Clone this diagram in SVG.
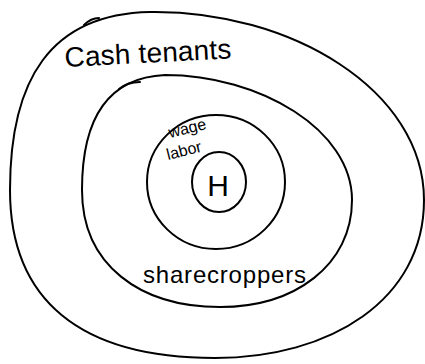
<svg xmlns="http://www.w3.org/2000/svg" width="425" height="364" viewBox="0 0 425 364">
<style>
.ring{fill:none;stroke:#000;stroke-width:2;stroke-linecap:round}
.lbl{font-family:"Liberation Sans",Arial,sans-serif;fill:#000}
</style>
<rect width="425" height="364" fill="#fff"/>
<g id="cash-tenants">
<path class="ring" d="M150,12 C290,10 424,90 424,200 C424,300 330,358 215,358 C80,358 10,300 10,190 C10,80 50,14 150,12 Z"/>
<path class="ring" d="M84,25 C89,20 94,18 99,18"/>
<text class="lbl" x="65" y="67" font-size="28" textLength="167" transform="rotate(-3 65 67)">Cash tenants</text>
</g>
<g id="sharecroppers">
<path class="ring" d="M165,75 C260,75 352,130 352,200 C352,265 295,307 220,307 C140,307 82,265 82,190 C82,130 100,78 165,75 Z"/>
<path class="ring" d="M119,89 C125,84 132,82 140,82"/>
<text class="lbl" x="143" y="283" font-size="24" textLength="163">sharecroppers</text>
</g>
<g id="wage-labor">
<ellipse class="ring" cx="216" cy="182" rx="69" ry="67"/>
<text class="lbl" x="170" y="138" font-size="16" transform="rotate(-14 170 138)">wage</text>
<text class="lbl" x="168" y="160" font-size="16" transform="rotate(-14 168 160)">labor</text>
</g>
<g id="H">
<ellipse class="ring" cx="219" cy="182" rx="27" ry="30" stroke-width="1.6"/>
<text class="lbl" x="218" y="196" font-size="30" text-anchor="middle">H</text>
</g>
<g id="connectors"></g>
</svg>
